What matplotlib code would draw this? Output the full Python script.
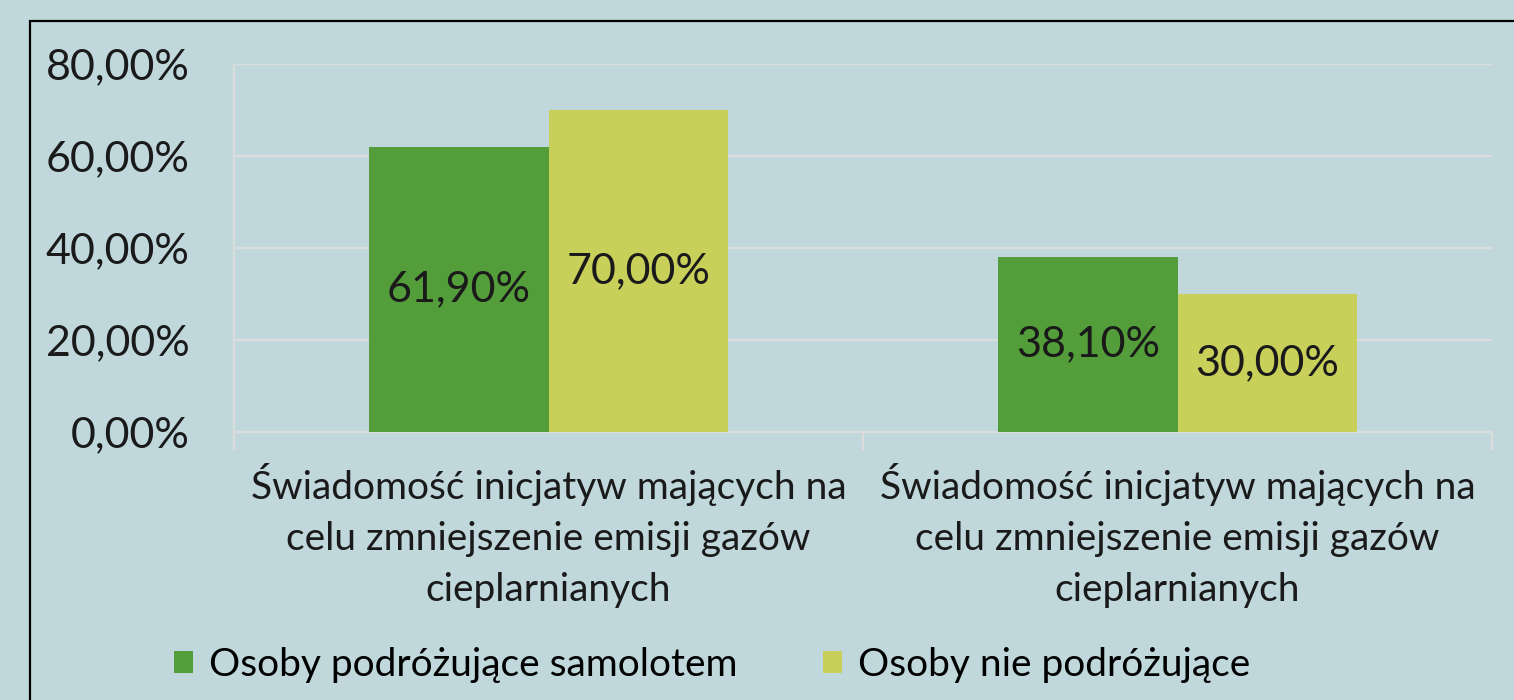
import matplotlib
matplotlib.use("Agg")
import matplotlib.pyplot as plt
from matplotlib.patches import Rectangle, Patch
import numpy as np

categories = [
    "Świadomość inicjatyw mających na\ncelu zmniejszenie emisji gazów\ncieplarnianych",
    "Świadomość inicjatyw mających na\ncelu zmniejszenie emisji gazów\ncieplarnianych",
]
series_names = ["Osoby podróżujące samolotem", "Osoby nie podróżujące"]
flyers = [61.90, 38.10]
non_flyers = [70.00, 30.00]
yticks = [0, 20, 40, 60, 80]

BG = "#c0d8dc"
GREEN = "#539d3a"
YELLOW = "#c8d05a"
GRID = "#dcdcdc"
FONT = "Lato"
FS_NUM = 31
FS_TXT = 28
W = "normal"
TXT = "#1a1a1a"

plt.rcParams["font.family"] = [FONT, "DejaVu Sans"]

fig = plt.figure(figsize=(15.14, 7.0), dpi=100, facecolor=BG)
ax = fig.add_axes([234/1514, 1-432/700, (1492-234)/1514, (432-64)/700])
ax.set_facecolor(BG)

x = np.arange(len(categories))
w = 0.285
b1 = ax.bar(x - w/2, flyers, w, color=GREEN, zorder=3, label=series_names[0])
b2 = ax.bar(x + w/2, non_flyers, w, color=YELLOW, zorder=3, label=series_names[1])

def fmt(v):
    return f"{v:.2f}".replace(".", ",") + "%"

for bars, vals in ((b1, flyers), (b2, non_flyers)):
    for r, v in zip(bars, vals):
        ax.text(r.get_x() + r.get_width()/2, v/2, fmt(v), ha="center", va="center",
                fontsize=FS_NUM, fontweight=W, color=TXT, zorder=4)

ax.set_xlim(-0.5, 1.5)
ax.set_ylim(0, 80)
ax.set_yticks(yticks)
ax.set_yticklabels([fmt(v) for v in yticks], fontsize=FS_NUM, fontweight=W, color=TXT)
ax.tick_params(axis="y", length=0, pad=32)
ax.set_xticks([-0.5, 0.5, 1.5])
ax.set_xticklabels([])
ax.tick_params(axis="x", length=13, width=1.5, color=GRID, direction="out")
ax.set_xticks(x, minor=True)
ax.set_xticklabels(categories, minor=True, fontsize=FS_TXT, fontweight=W, color=TXT,
                   linespacing=1.52)
ax.tick_params(axis="x", which="minor", length=0, pad=22)

ax.yaxis.grid(True, color=GRID, linewidth=1.5, zorder=0)
for s in ["top", "right"]:
    ax.spines[s].set_visible(False)
ax.spines["left"].set_color(GRID)
ax.spines["left"].set_linewidth(1.5)
ax.spines["left"].set_bounds(-2.8, 80)
ax.spines["bottom"].set_color(GRID)
ax.spines["bottom"].set_linewidth(1.5)

handles = [Patch(facecolor=GREEN), Patch(facecolor=YELLOW)]
fig.legend(handles, series_names, loc="center", bbox_to_anchor=(712/1514, 1-665/700),
           ncol=2, frameon=False, prop={"size": FS_TXT, "weight": W},
           handlelength=0.5, handleheight=0.5,
           handletextpad=0.4, columnspacing=2.2)

frame = Rectangle((30/1514, -0.1), 1.2, 0.1 + (1-21/700), transform=fig.transFigure,
                  fill=False, edgecolor="black", linewidth=1.6, clip_on=False)
fig.patches.append(frame)

fig.savefig("out.png", dpi=100, facecolor=BG)
